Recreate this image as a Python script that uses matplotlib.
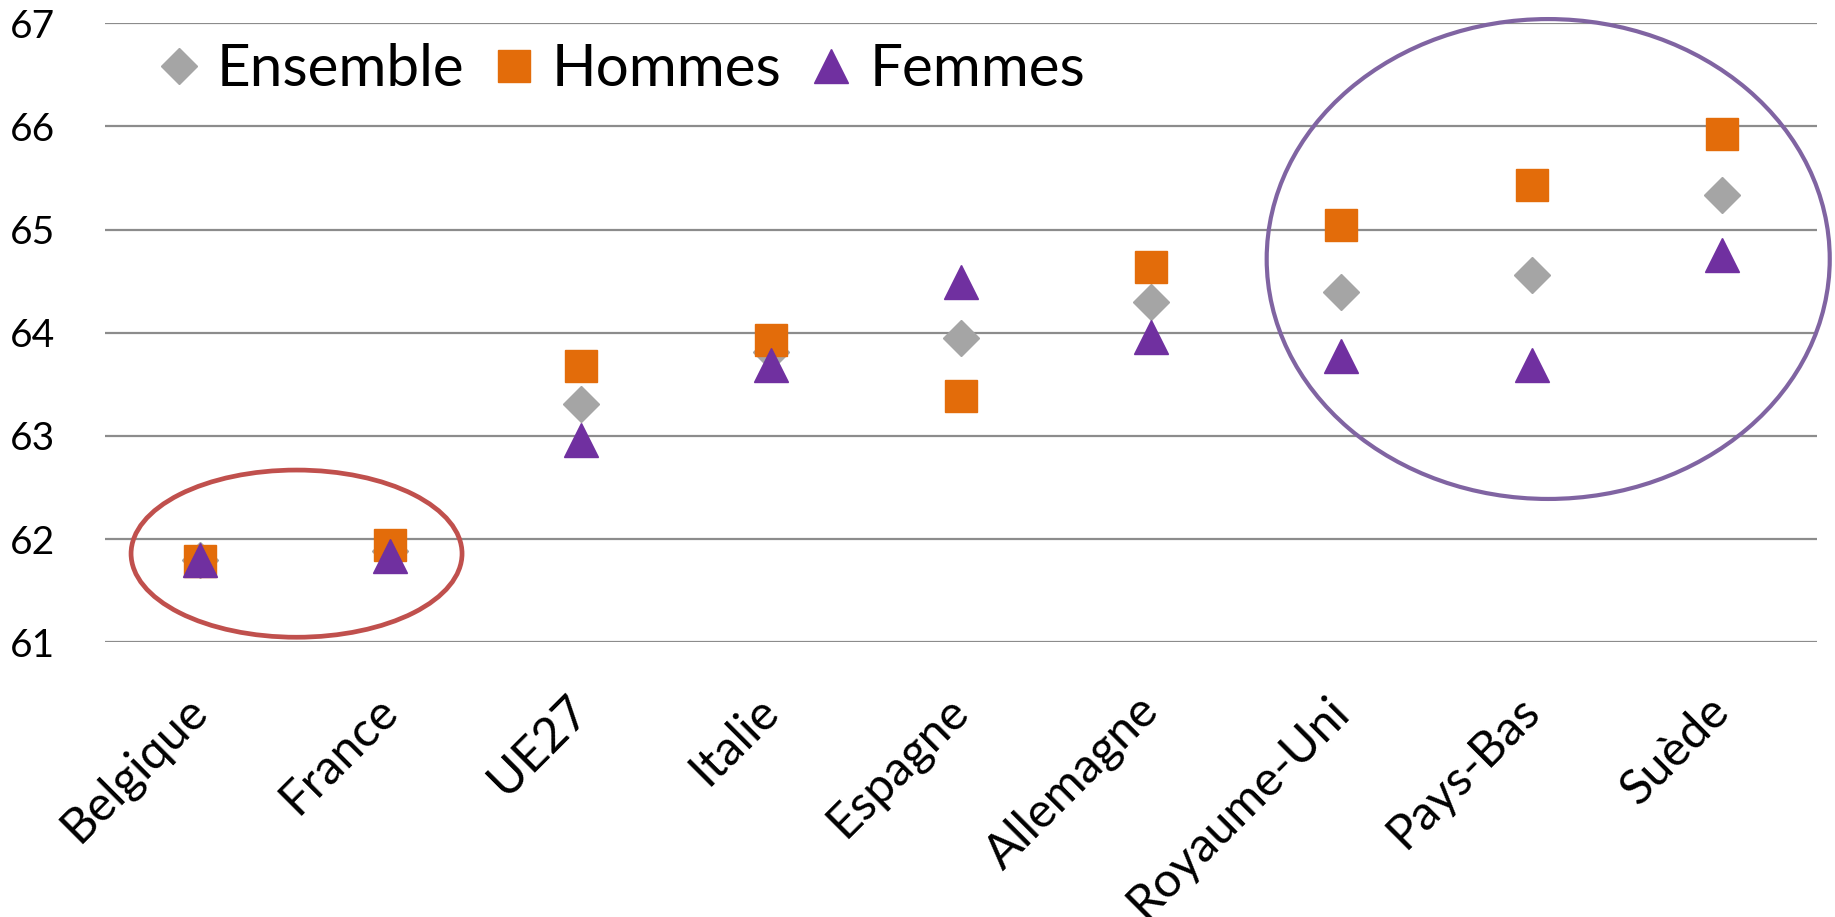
import matplotlib
matplotlib.use("Agg")
import matplotlib.pyplot as plt
from matplotlib.patches import Ellipse
import numpy as np

categories = ["Belgique", "France", "UE27", "Italie", "Espagne", "Allemagne",
              "Royaume-Uni", "Pays-Bas", "Suède"]
ensemble = [61.80, 61.89, 63.31, 63.81, 63.95, 64.30, 64.40, 64.56, 65.34]
hommes = [61.79, 61.94, 63.68, 63.93, 63.39, 64.64, 65.04, 65.43, 65.93]
femmes = [61.80, 61.84, 62.96, 63.69, 64.49, 63.96, 63.78, 63.69, 64.75]
yticks = [61, 62, 63, 64, 65, 66, 67]

plt.rcParams['font.family'] = ['Lato', 'DejaVu Sans']

W, H = 1835, 917
fig = plt.figure(figsize=(W / 100, H / 100), dpi=100)
ax = fig.add_axes([105 / W, 1 - 642.4 / H, (1817 - 105) / W, (642.4 - 23.2) / H])

x = np.arange(len(categories))
c_ens, c_hom, c_fem = '#A5A5A5', '#E36C0A', '#7030A0'
ax.plot(x, ensemble, linestyle='none', marker='D', ms=18.8, color=c_ens, mec=c_ens,
        label='Ensemble', zorder=3, clip_on=False)
ax.plot(x, hommes, linestyle='none', marker='s', ms=23, color=c_hom, mec=c_hom,
        label='Hommes', zorder=4, clip_on=False)
ax.plot(x, femmes, linestyle='none', marker='^', ms=24.5, color=c_fem, mec=c_fem,
        label='Femmes', zorder=5, clip_on=False)

ax.set_xlim(-0.5, len(categories) - 0.5)
ax.set_ylim(61, 67)
ax.set_yticks(yticks)
ax.set_yticklabels([str(v) for v in yticks], fontsize=28)
ax.set_xticks(x)
ax.set_xticklabels(categories, fontsize=35, rotation=45, ha='right', va='center',
                   rotation_mode='anchor')
ax.tick_params(axis='both', length=0)
ax.tick_params(axis='x', pad=44)
for lbl in ax.get_yticklabels():
    lbl.set_horizontalalignment('left')
ax.yaxis.set_tick_params(pad=95 * 0.72)

ax.grid(axis='y', color='#8C8C8C', linewidth=1.6)
ax.set_axisbelow(True)
for s in ax.spines.values():
    s.set_visible(False)

# highlight ellipses
e1 = Ellipse((0.507, 61.86), 1.74, 1.62, fill=False, edgecolor='#C0504D',
             linewidth=3.4, clip_on=False, zorder=6)
e2 = Ellipse((7.087, 64.715), 2.96, 4.65, fill=False, edgecolor='#8064A2',
             linewidth=3.0, clip_on=False, zorder=6)
ax.add_patch(e1)
ax.add_patch(e2)

leg = ax.legend(loc='center left', bbox_to_anchor=(161.5 / W, 1 - 70 / H),
                bbox_transform=fig.transFigure, ncol=3, frameon=False,
                fontsize=42, handlelength=0.6, handletextpad=0.35,
                columnspacing=0.55, borderpad=0, borderaxespad=0, markerscale=1.0)

fig.savefig('out.png', dpi=100, facecolor='white')
